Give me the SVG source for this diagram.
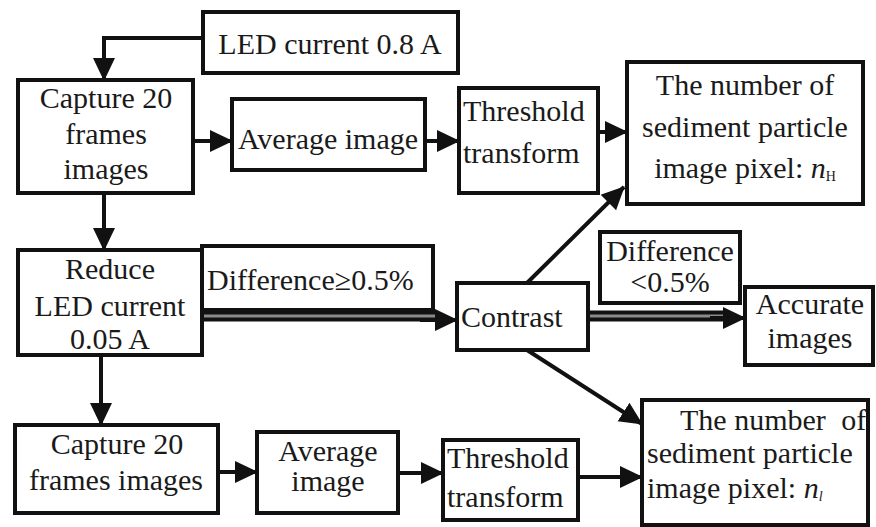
<svg xmlns="http://www.w3.org/2000/svg" width="876" height="527" viewBox="0 0 876 527" font-family="Liberation Serif, Times New Roman, serif">
<style>
.box{fill:#fff;stroke:#111;stroke-width:4}
.t{font-size:30px;fill:#1a1a1a}
.c{text-anchor:middle}
.ln{fill:none;stroke:#111;stroke-width:4}
.dbl{fill:none;stroke:#111;stroke-width:11}
.dblc{fill:none;stroke:#8a8a8a;stroke-width:3}
</style>
<defs>
<marker id="ah" markerUnits="userSpaceOnUse" markerWidth="24" markerHeight="24" refX="22" refY="12" orient="auto">
<path d="M0,1 L23,12 L0,23 Z" fill="#111"/>
</marker>
</defs>
<rect width="876" height="527" fill="#fff"/>

<g id="connectors">
<path class="ln" d="M203,38 H104 V80" marker-end="url(#ah)"/>
<path class="ln" d="M193,141 H232" marker-end="url(#ah)"/>
<path class="ln" d="M425,141 H459" marker-end="url(#ah)"/>
<path class="ln" d="M598,132 H627" marker-end="url(#ah)"/>
<path class="ln" d="M104,193 V250" marker-end="url(#ah)"/>
<path class="dbl" d="M202,316 H437"/>
<path class="dblc" d="M202,316 H437"/>
<path class="ln" d="M420,320 H457" marker-end="url(#ah)"/>
<path class="ln" d="M527,283 L624,187" marker-end="url(#ah)"/>
<path class="dbl" d="M588,316 H725"/>
<path class="dblc" d="M588,316 H725"/>
<path class="ln" d="M710,318 H745" marker-end="url(#ah)"/>
<path class="ln" d="M527,350 L642,424" marker-end="url(#ah)"/>
<path class="ln" d="M101,355 V425" marker-end="url(#ah)"/>
<path class="ln" d="M218,472 H257" marker-end="url(#ah)"/>
<path class="ln" d="M398,473 H443" marker-end="url(#ah)"/>
<path class="ln" d="M578,477 H642" marker-end="url(#ah)"/>
</g>

<g id="led08">
<rect class="box" x="203" y="12" width="255" height="61"/>
<text class="t c" x="330" y="54" font-family="Liberation Serif">LED current 0.8 A</text>
</g>

<g id="capture1">
<rect class="box" x="18" y="80" width="175" height="113"/>
<text class="t c" x="106" y="108">Capture 20</text>
<text class="t c" x="106" y="144">frames</text>
<text class="t c" x="106" y="179">images</text>
</g>

<g id="avg1">
<rect class="box" x="232" y="99" width="193" height="71"/>
<text class="t c" x="328" y="149">Average image</text>
</g>

<g id="thr1">
<rect class="box" x="459" y="88" width="139" height="105"/>
<text class="t" x="463" y="121">Threshold</text>
<text class="t" x="463" y="163">transform</text>
</g>

<g id="nH">
<rect class="box" x="627" y="62" width="236" height="142"/>
<text class="t c" x="745" y="95">The number of</text>
<text class="t c" x="745" y="137">sediment particle</text>
<text class="t c" x="745" y="178">image pixel: <tspan font-style="italic">n</tspan><tspan font-size="14" dy="3">H</tspan></text>
</g>

<g id="reduce">
<rect class="box" x="18" y="250" width="184" height="105"/>
<text class="t c" x="110" y="279">Reduce</text>
<text class="t c" x="110" y="316">LED current</text>
<text class="t c" x="110" y="349">0.05 A</text>
</g>

<g id="diffge">
<rect class="box" x="202" y="246" width="231" height="64"/>
<text class="t" x="207" y="290">Difference≥0.5%</text>
</g>

<g id="contrast">
<rect class="box" x="457" y="283" width="131" height="67"/>
<text class="t" x="461" y="327">Contrast</text>
</g>

<g id="difflt">
<rect class="box" x="600" y="232" width="140" height="71"/>
<text class="t c" x="670" y="261">Difference</text>
<text class="t c" x="670" y="292">&lt;0.5%</text>
</g>

<g id="accurate">
<rect class="box" x="745" y="287" width="128" height="78"/>
<text class="t c" x="810" y="314">Accurate</text>
<text class="t c" x="810" y="348">images</text>
</g>

<g id="capture2">
<rect class="box" x="15" y="425" width="203" height="88"/>
<text class="t c" x="117" y="454">Capture 20</text>
<text class="t c" x="116" y="490">frames images</text>
</g>

<g id="avg2">
<rect class="box" x="257" y="432" width="141" height="81"/>
<text class="t c" x="328" y="461">Average</text>
<text class="t c" x="328" y="491">image</text>
</g>

<g id="thr2">
<rect class="box" x="443" y="440" width="135" height="80"/>
<text class="t" x="447" y="468">Threshold</text>
<text class="t" x="447" y="507">transform</text>
</g>

<g id="nl">
<rect class="box" x="642" y="400" width="226" height="125"/>
<text class="t" x="680" y="430">The number <tspan dx="8">of</tspan></text>
<text class="t" x="647" y="463">sediment particle</text>
<text class="t" x="647" y="498">image pixel: <tspan font-style="italic">n</tspan><tspan font-size="14" font-style="italic" dy="3">l</tspan></text>
</g>
</svg>
